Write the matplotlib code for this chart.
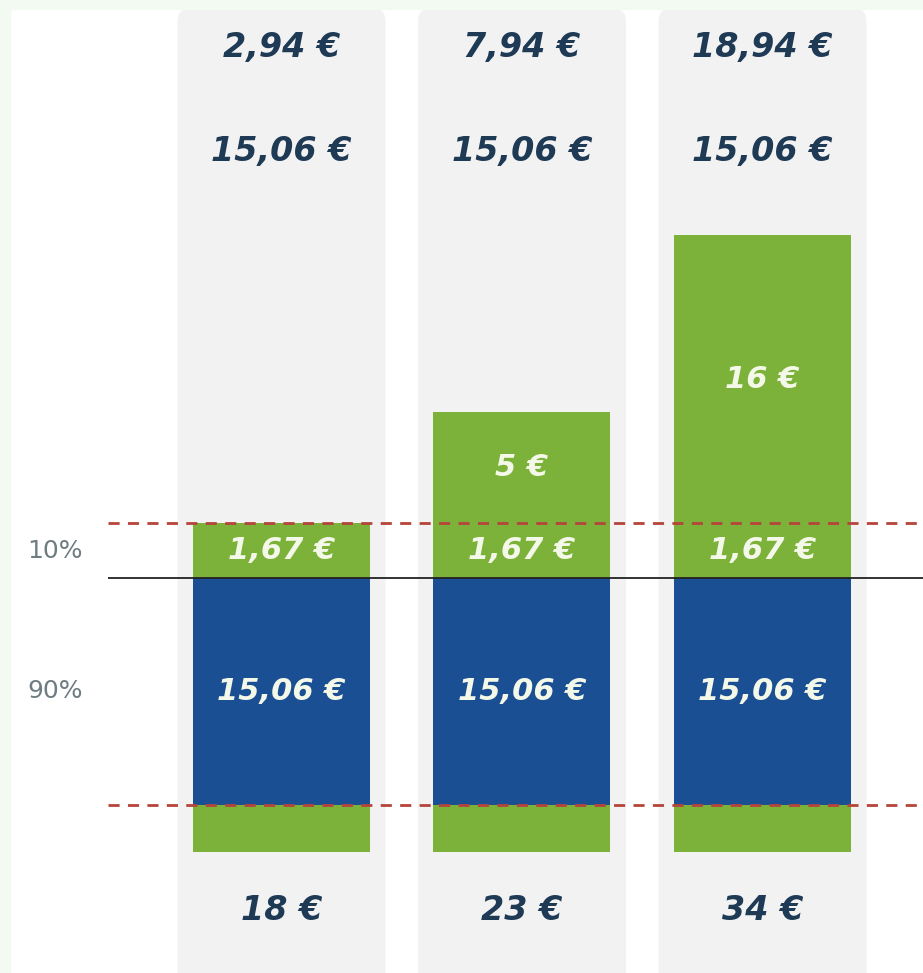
import matplotlib.pyplot as plt
import numpy as np
from matplotlib.patches import FancyBboxPatch, Rectangle

# values shown on the chart
totals = ['18 €', '23 €', '34 €']
top_row = ['2,94 €', '7,94 €', '18,94 €']
mid_row = ['15,06 €', '15,06 €', '15,06 €']
blue_lbl = ['15,06 €', '15,06 €', '15,06 €']
share_lbl = ['1,67 €', '1,67 €', '1,67 €']
extra_lbl = ['', '5 €', '16 €']
row_lbl = ['10%', '90%']

# drawn (schematic) segment heights, not to scale with the euro values
h_base = np.array([47, 47, 47])
h_blue = np.array([227, 227, 227])
h_share = np.array([55, 55, 55])
h_extra = np.array([0, 111, 288])

GREEN = '#7db23a'
BLUE = '#1b4f94'
DARK = '#1f3a55'
GREY_BG = '#f2f2f2'
TXT_IN = '#f4f8e8'

fig = plt.figure(figsize=(9.23, 9.73), dpi=100)
fig.patch.set_facecolor('white')
# faint green frame at top/left
fig.patches.append(Rectangle((0, 0), 10/923, 1, transform=fig.transFigure,
                             color='#f3faf1', zorder=0))
fig.patches.append(Rectangle((0, 1-9/973), 1, 9/973, transform=fig.transFigure,
                             color='#f3faf1', zorder=0))
ax = fig.add_axes([10/923, 0, 1-10/923, 1-9/973])
ax.set_facecolor('none')
ax.axis('off')
px = 240.5
ax.set_xlim(-(281.5-10)/px, (923-281.5)/px)
ax.set_ylim(-121, 843)

x = np.arange(3)
w = 177/px
cw = 208/px

# grey column backgrounds
for xi in x:
    ax.add_patch(FancyBboxPatch((xi - cw/2, -140), cw, 983,
                                boxstyle='round,pad=0,rounding_size=0.05',
                                mutation_aspect=240, fc=GREY_BG, ec='none', zorder=1))

b1 = h_base
b2 = b1 + h_blue
b3 = b2 + h_share
ax.bar(x, h_base, w, bottom=0, color=GREEN, zorder=2)
ax.bar(x, h_blue, w, bottom=b1, color=BLUE, zorder=2)
ax.bar(x, h_share, w, bottom=b2, color=GREEN, zorder=2)
ax.bar(x, h_extra, w, bottom=b3, color=GREEN, zorder=2)

x0 = (108 - 281.5)/px
x1 = (923 - 281.5)/px
ax.hlines([b1[0], b3[0]], x0, x1, colors='#b5443a', linestyles=(0, (4, 3)),
          linewidth=2, zorder=3)
ax.hlines([b2[0]], x0, x1, colors='#222222', linewidth=1.3, zorder=3)

tk = dict(ha='center', va='center', fontweight='bold', style='italic', zorder=4)
for i in range(3):
    ax.text(x[i], 804, top_row[i], color=DARK, fontsize=24, **tk)
    ax.text(x[i], 700, mid_row[i], color=DARK, fontsize=24, **tk)
    ax.text(x[i], -58, totals[i], color=DARK, fontsize=24, **tk)
    ax.text(x[i], b1[i] + h_blue[i]/2, blue_lbl[i], color=TXT_IN, fontsize=22, **tk)
    ax.text(x[i], b2[i] + h_share[i]/2, share_lbl[i], color=TXT_IN, fontsize=22, **tk)
    if h_extra[i] > 0:
        ax.text(x[i], b3[i] + h_extra[i]/2, extra_lbl[i], color=TXT_IN, fontsize=22, **tk)

lx = (55 - 281.5)/px
ax.text(lx, b2[0] + h_share[0]/2, row_lbl[0], color='#6f7d82', fontsize=18,
        ha='center', va='center')
ax.text(lx, b1[0] + h_blue[0]/2, row_lbl[1], color='#6f7d82', fontsize=18,
        ha='center', va='center')

fig.savefig('out.png', dpi=100)
